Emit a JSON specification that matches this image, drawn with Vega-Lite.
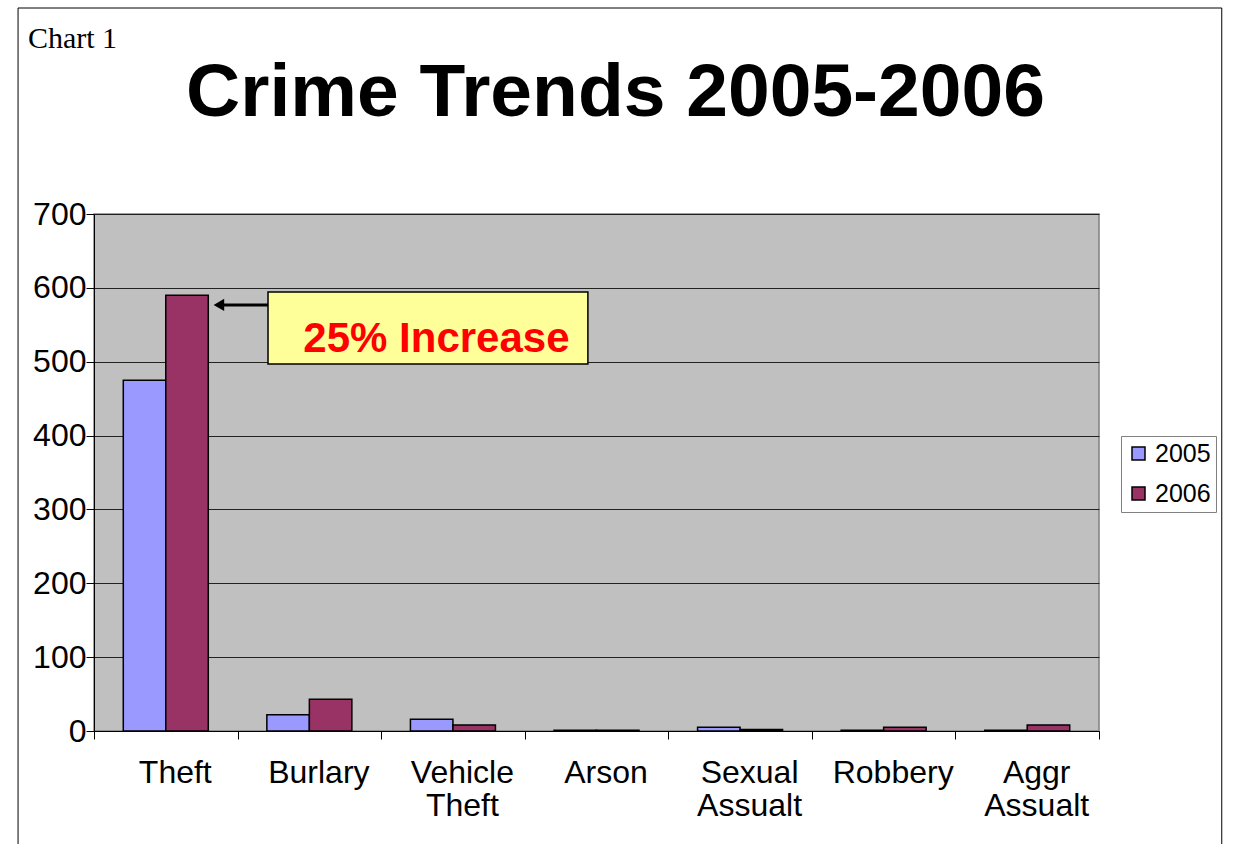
{
  "$schema": "https://vega.github.io/schema/vega-lite/v6.json",
  "width": 1005,
  "height": 517,
  "autosize": {"type": "none"},
  "padding": {"left": 94, "top": 214, "right": 136, "bottom": 113},
  "background": "white",
  "title": {
    "text": "Crime Trends 2005-2006",
    "font": "Liberation Sans",
    "fontSize": 75,
    "fontWeight": "bold",
    "color": "black",
    "anchor": "middle",
    "baseline": "alphabetic",
    "dx": 19,
    "offset": -183
  },
  "datasets": {
    "crimes": [
      {"category": "Theft", "year": "2005", "count": 475},
      {"category": "Theft", "year": "2006", "count": 590},
      {"category": "Burlary", "year": "2005", "count": 22},
      {"category": "Burlary", "year": "2006", "count": 43},
      {"category": "Vehicle Theft", "year": "2005", "count": 16},
      {"category": "Vehicle Theft", "year": "2006", "count": 8},
      {"category": "Arson", "year": "2005", "count": 1},
      {"category": "Arson", "year": "2006", "count": 1},
      {"category": "Sexual Assualt", "year": "2005", "count": 5},
      {"category": "Sexual Assualt", "year": "2006", "count": 2},
      {"category": "Robbery", "year": "2005", "count": 1},
      {"category": "Robbery", "year": "2006", "count": 5},
      {"category": "Aggr Assualt", "year": "2005", "count": 1},
      {"category": "Aggr Assualt", "year": "2006", "count": 8}
    ],
    "box": [{"x": 1.212, "x2": 3.44, "y": 594.4, "y2": 496.9}],
    "label": [{"x": 2.385, "y": 513.1, "text": "25% Increase"}],
    "arrow": [{"x": 0.88, "x2": 1.212, "y": 576.8}],
    "head": [{"x": 0.87, "y": 576.8}],
    "frame": [{"x": -0.529, "x2": 7.855, "y": 978.9, "y2": -170}],
    "caption": [{"x": -0.46, "y": 924.7, "text": "Chart 1"}]
  },
  "layer": [
    {
      "data": {"name": "crimes"},
      "mark": {"type": "bar", "stroke": "black", "strokeWidth": 1.5},
      "encoding": {
        "x": {
          "field": "category",
          "type": "nominal",
          "sort": ["Theft", "Burlary", "Vehicle Theft", "Arson", "Sexual Assualt", "Robbery", "Aggr Assualt"],
          "scale": {"paddingInner": 0, "paddingOuter": 0},
          "axis": {
            "title": null,
            "labelAngle": 0,
            "labelFontSize": 32,
            "labelFont": "Liberation Sans",
            "labelColor": "black",
            "labelPadding": 18,
            "labelOffset": 9,
            "labelLineHeight": 33,
            "labelExpr": "split(datum.label, ' ')",
            "tickBand": "extent",
            "tickSize": 8,
            "tickColor": "black",
            "domainColor": "black",
            "grid": false
          }
        },
        "xOffset": {"field": "year", "type": "nominal", "scale": {"paddingInner": 0, "paddingOuter": 0.689}},
        "y": {
          "field": "count",
          "type": "quantitative",
          "scale": {"domain": [0, 700], "nice": false},
          "axis": {
            "title": null,
            "values": [0, 100, 200, 300, 400, 500, 600, 700],
            "labelFontSize": 32,
            "labelFont": "Liberation Sans",
            "labelColor": "black",
            "labelPadding": 0,
            "tickSize": 8,
            "tickColor": "black",
            "domainColor": "black",
            "grid": true,
            "gridColor": "#222222",
            "gridWidth": 1
          }
        },
        "color": {
          "field": "year",
          "type": "nominal",
          "scale": {"domain": ["2005", "2006"], "range": ["#9999FF", "#993366"]},
          "legend": {
            "title": null,
            "orient": "none",
            "legendX": 1027,
            "legendY": 222,
            "labelFontSize": 25,
            "labelFont": "Liberation Sans",
            "labelColor": "black",
            "symbolType": "square",
            "symbolSize": 169,
            "symbolStrokeColor": "black",
            "symbolStrokeWidth": 1.5,
            "strokeColor": "#808080",
            "fillColor": "white",
            "padding": 5,
            "rowPadding": 14,
            "labelOffset": 4
          }
        }
      }
    },
    {
      "data": {"name": "box"},
      "mark": {"type": "rect", "fill": "#FFFF99", "stroke": "black", "strokeWidth": 1.5},
      "encoding": {
        "x": {"field": "x", "type": "quantitative", "scale": {"domain": [0, 7], "nice": false, "zero": false}, "axis": null},
        "x2": {"field": "x2"},
        "y": {"field": "y", "type": "quantitative"},
        "y2": {"field": "y2"}
      }
    },
    {
      "data": {"name": "label"},
      "mark": {"type": "text", "font": "Liberation Sans", "fontSize": 42, "fontWeight": "bold", "color": "#FF0000", "align": "center", "baseline": "alphabetic"},
      "encoding": {
        "x": {"field": "x", "type": "quantitative", "scale": {"domain": [0, 7], "nice": false, "zero": false}, "axis": null},
        "y": {"field": "y", "type": "quantitative"},
        "text": {"field": "text"}
      }
    },
    {
      "data": {"name": "arrow"},
      "mark": {"type": "rule", "color": "black", "strokeWidth": 3},
      "encoding": {
        "x": {"field": "x", "type": "quantitative", "scale": {"domain": [0, 7], "nice": false, "zero": false}, "axis": null},
        "x2": {"field": "x2"},
        "y": {"field": "y", "type": "quantitative"}
      }
    },
    {
      "data": {"name": "head"},
      "mark": {"type": "point", "shape": "triangle-left", "filled": true, "color": "black", "size": 150, "opacity": 1},
      "encoding": {
        "x": {"field": "x", "type": "quantitative", "scale": {"domain": [0, 7], "nice": false, "zero": false}, "axis": null},
        "y": {"field": "y", "type": "quantitative"}
      }
    },
    {
      "data": {"name": "frame"},
      "mark": {"type": "rect", "fill": null, "fillOpacity": 0, "stroke": "black", "strokeWidth": 1},
      "encoding": {
        "x": {"field": "x", "type": "quantitative", "scale": {"domain": [0, 7], "nice": false, "zero": false}, "axis": null},
        "x2": {"field": "x2"},
        "y": {"field": "y", "type": "quantitative"},
        "y2": {"field": "y2"}
      }
    },
    {
      "data": {"name": "caption"},
      "mark": {"type": "text", "font": "Liberation Serif", "fontSize": 30, "color": "black", "align": "left", "baseline": "alphabetic"},
      "encoding": {
        "x": {"field": "x", "type": "quantitative", "scale": {"domain": [0, 7], "nice": false, "zero": false}, "axis": null},
        "y": {"field": "y", "type": "quantitative"},
        "text": {"field": "text"}
      }
    }
  ],
  "resolve": {"scale": {"x": "independent", "color": "independent"}, "axis": {"x": "independent"}},
  "config": {
    "font": "Liberation Sans",
    "view": {"fill": "#C0C0C0", "stroke": "#808080", "strokeWidth": 1.5}
  }
}
